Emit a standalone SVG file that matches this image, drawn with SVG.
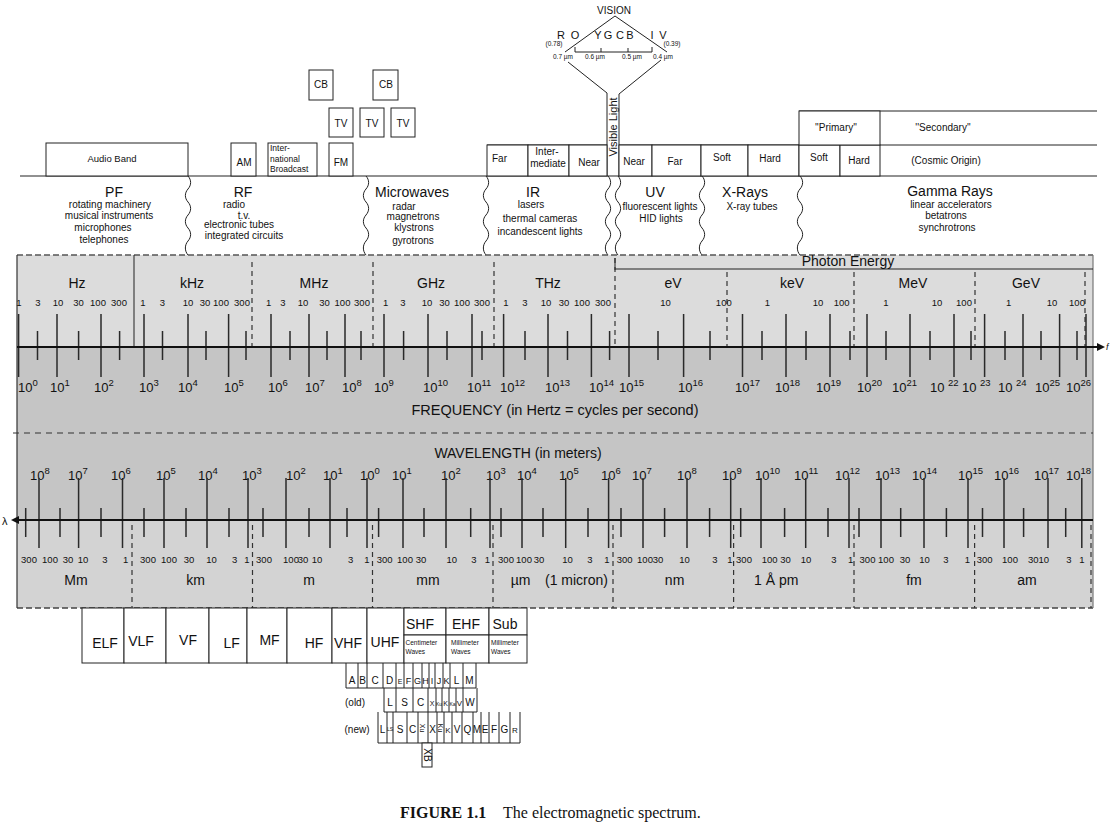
<svg xmlns="http://www.w3.org/2000/svg" width="1115" height="837" viewBox="0 0 1115 837">
<style>
text{font-family:"Liberation Sans",Arial,Helvetica,sans-serif;fill:#111}
.m{text-anchor:middle}
.ln{stroke:#222;stroke-width:1;fill:none}
.bx{fill:#fff;stroke:#222;stroke-width:1}
.dl{stroke:#333;stroke-width:1.2;stroke-dasharray:5 4;fill:none}
.tk{stroke:#2a2a2a;stroke-width:1.5;fill:none}
.ax{stroke:#111;stroke-width:2;fill:none}
.s6{font-size:6.5px}.s8{font-size:8.5px}.s9{font-size:9.5px}.s10{font-size:10px}.s11{font-size:11px}.s13{font-size:13px}.s14{font-size:14px}
.e{font-size:13px}.p{font-size:9.5px}
.cap{font-family:"Liberation Serif","Times New Roman",serif;font-size:16px}
</style>
<defs>
<path id="wv" class="ln" d="M0,0 c3.5,4 3.5,9 0,13 c-3.5,4 -3.5,9 0,13 c3.5,4 3.5,9 0,13 c-3.5,4 -3.5,9 0,13 c3.5,4 3.5,9 0,13 c-3.5,4 -3.5,10 0,14"/>
</defs>

<!-- VISION -->
<g id="vision">
<text x="614" y="14" class="m s10">VISION</text>
<path class="ln" d="M615,16 L565,52 M615,16 L667,52"/>
<path class="ln" d="M575,52 H652 M575,47 V52 M601,48 V52 M628,48 V52 M652,47 V52"/>
<g class="s11">
<text x="561" y="39" class="m">R</text><text x="575" y="39" class="m">O</text>
<text x="598" y="39" class="m">Y</text><text x="608" y="39" class="m">G</text>
<text x="620" y="39" class="m">C</text><text x="630" y="39" class="m">B</text>
<text x="652" y="39" class="m">I</text><text x="663" y="39" class="m">V</text>
</g>
<text x="554" y="46" class="m s6">(0.78)</text>
<text x="672" y="46" class="m s6">(0.39)</text>
<text x="563" y="59" class="m s6">0.7 µm</text>
<text x="595" y="59" class="m s6">0.6 µm</text>
<text x="632" y="59" class="m s6">0.5 µm</text>
<text x="663" y="59" class="m s6">0.4 µm</text>
</g>

<g id="connectors">
<path class="ln" d="M568,62 L607,93 V176 M661,60 L619,94 V176"/>
<path class="ln" d="M20,176 H1097 M487,145 H607 M619,145 H1097 M799,111 H1097"/>
<use href="#wv" x="188" y="176"/><use href="#wv" x="366" y="176"/>
<use href="#wv" x="486" y="176"/><use href="#wv" x="608" y="176"/>
<use href="#wv" x="618" y="176"/><use href="#wv" x="702" y="176"/>
<use href="#wv" x="800" y="176"/>
</g>

<g id="visible-light"><text transform="translate(617,127) rotate(-90)" class="m s11">Visible Light</text></g>

<!-- top boxes -->
<g id="audio-band"><rect x="46" y="143" width="142" height="33" class="bx"/><text x="112" y="162" class="m s9">Audio Band</text></g>
<g id="am"><rect x="231" y="143" width="25" height="33" class="bx"/><text x="244" y="166" class="m s10">AM</text></g>
<g id="intl"><rect x="268" y="143" width="49" height="33" class="bx"/>
<text x="270" y="151" class="s8">Inter-</text><text x="270" y="162" class="s8">national</text><text x="270" y="172" class="s8">Broadcast</text></g>
<g id="fm"><rect x="329" y="143" width="24" height="33" class="bx"/><text x="341" y="166" class="m s10">FM</text></g>
<g id="tv1"><rect x="329" y="108" width="24" height="29" class="bx"/><text x="341" y="127" class="m s10">TV</text></g>
<g id="tv2"><rect x="360" y="108" width="24" height="29" class="bx"/><text x="372" y="127" class="m s10">TV</text></g>
<g id="tv3"><rect x="391" y="108" width="24" height="29" class="bx"/><text x="403" y="127" class="m s10">TV</text></g>
<g id="cb1"><rect x="309" y="70" width="24" height="30" class="bx"/><text x="321" y="88" class="m s10">CB</text></g>
<g id="cb2"><rect x="373" y="70" width="25" height="30" class="bx"/><text x="386" y="88" class="m s10">CB</text></g>

<g id="ir-far"><rect x="487" y="145" width="41" height="31" class="bx"/><text x="492" y="162" class="s10">Far</text></g>
<g id="ir-inter"><rect x="528" y="145" width="41" height="31" class="bx"/><text x="547" y="155" class="m s10">Inter-</text><text x="548" y="167" class="m s10">mediate</text></g>
<g id="ir-near"><rect x="569" y="145" width="38" height="31" class="bx"/><text x="589" y="166" class="m s10">Near</text></g>
<g id="uv-near"><rect x="619" y="145" width="33" height="31" class="bx"/><text x="634" y="165" class="m s10">Near</text></g>
<g id="uv-far"><rect x="652" y="145" width="49" height="31" class="bx"/><text x="675" y="165" class="m s10">Far</text></g>
<g id="x-soft"><rect x="701" y="145" width="47" height="31" class="bx"/><text x="722" y="161" class="m s10">Soft</text></g>
<g id="x-hard"><rect x="748" y="145" width="51" height="31" class="bx"/><text x="770" y="162" class="m s10">Hard</text></g>
<g id="g-soft"><rect x="799" y="145" width="41" height="31" class="bx"/><text x="819" y="161" class="m s10">Soft</text></g>
<g id="g-hard"><rect x="840" y="145" width="40" height="31" class="bx"/><text x="859" y="164" class="m s10">Hard</text></g>
<g id="cosmic"><text x="946" y="164" class="m s10">(Cosmic Origin)</text></g>
<g id="primary"><rect x="799" y="111" width="81" height="34" class="bx"/><text x="836" y="131" class="m s10">''Primary''</text></g>
<g id="secondary"><text x="943" y="131" class="m s10">''Secondary''</text></g>

<!-- categories -->
<g id="pf"><text x="114" y="197" class="m s14">PF</text>
<text x="110" y="208" class="m s10">rotating machinery</text><text x="109" y="219" class="m s10">musical instruments</text>
<text x="103" y="231" class="m s10">microphones</text><text x="104" y="243" class="m s10">telephones</text></g>
<g id="rf"><text x="243" y="197" class="m s14">RF</text>
<text x="234" y="208" class="m s10">radio</text><text x="244" y="219" class="m s10">t.v.</text>
<text x="239" y="228" class="m s10">electronic tubes</text><text x="244" y="239" class="m s10">integrated circuits</text></g>
<g id="microwaves"><text x="412" y="197" class="m s14">Microwaves</text>
<text x="404" y="210" class="m s10">radar</text><text x="413" y="220" class="m s10">magnetrons</text>
<text x="414" y="231" class="m s10">klystrons</text><text x="413" y="244" class="m s10">gyrotrons</text></g>
<g id="ir"><text x="533" y="197" class="m s14">IR</text>
<text x="531" y="208" class="m s10">lasers</text><text x="540" y="222" class="m s10">thermal cameras</text>
<text x="540" y="235" class="m s10">incandescent lights</text></g>
<g id="uv"><text x="655" y="197" class="m s14">UV</text>
<text x="660" y="210" class="m s10">fluorescent lights</text><text x="661" y="222" class="m s10">HID lights</text></g>
<g id="xrays"><text x="745" y="197" class="m s14">X-Rays</text>
<text x="752" y="210" class="m s10">X-ray tubes</text></g>
<g id="gamma"><text x="950" y="196" class="m s14">Gamma Rays</text>
<text x="951" y="208" class="m s10">linear accelerators</text><text x="946" y="219" class="m s10">betatrons</text>
<text x="947" y="231" class="m s10">synchrotrons</text></g>

<!-- main frame -->
<g id="frame">
<rect x="17" y="255" width="1076" height="92" fill="#dcdcdc"/>
<rect x="17" y="347" width="1076" height="173" fill="#c5c5c5"/>
<rect x="17" y="520" width="1076" height="88" fill="#d3d3d3"/>
<path d="M17,255 H1093" stroke="#555" stroke-width="1.5" stroke-dasharray="6 3" fill="none"/>
<path d="M17,608 H1093" stroke="#444" stroke-width="1.5" stroke-dasharray="6 3" fill="none"/>
<path d="M17,255 V608" stroke="#333" stroke-width="1.2" fill="none"/>
<path d="M1093,255 V608" stroke="#777" stroke-width="1.2" fill="none"/>
<path d="M134,255 V347 M615,258 V270 M615,269 H1093" class="ln"/>
<path class="dl" d="M252,262 V347 M373,262 V347 M494,262 V347 M615,258 V347 M727,272 V347 M854,272 V347 M975,272 V347 M1085,272 V347"/>
<path class="dl" d="M132,525 V608 M252.5,525 V608 M372.5,525 V608 M493,525 V608 M613,525 V608 M733.6,525 V608 M854,525 V608 M974.6,525 V608 M1091,525 V608"/>
<path d="M13,433 H1093" stroke="#333" stroke-width="1.2" stroke-dasharray="6 5" fill="none"/>
</g>

<!-- frequency scale -->
<g id="frequency">
<text x="848" y="266" class="m s14">Photon Energy</text>
<g class="s14">
<text x="77" y="288" class="m">Hz</text><text x="192" y="288" class="m">kHz</text><text x="314" y="288" class="m">MHz</text>
<text x="431" y="288" class="m">GHz</text><text x="548" y="288" class="m">THz</text><text x="673" y="288" class="m">eV</text>
<text x="792" y="288" class="m">keV</text><text x="913" y="288" class="m">MeV</text><text x="1026" y="288" class="m">GeV</text>
</g>
<g class="s9">
<text x="19" y="306" class="m">1</text><text x="38" y="306" class="m">3</text><text x="58" y="306" class="m">10</text><text x="78.6" y="306" class="m">30</text><text x="98" y="306" class="m">100</text><text x="119" y="306" class="m">300</text>
<text x="143" y="306" class="m">1</text><text x="162.5" y="306" class="m">3</text><text x="188" y="306" class="m">10</text><text x="205" y="306" class="m">30</text><text x="221" y="306" class="m">100</text><text x="242" y="306" class="m">300</text>
<text x="268.6" y="306" class="m">1</text><text x="283" y="306" class="m">3</text><text x="303" y="306" class="m">10</text><text x="324.5" y="306" class="m">30</text><text x="342.5" y="306" class="m">100</text><text x="362" y="306" class="m">300</text>
<text x="385.7" y="306" class="m">1</text><text x="403" y="306" class="m">3</text><text x="427" y="306" class="m">10</text><text x="444.6" y="306" class="m">30</text><text x="462" y="306" class="m">100</text><text x="482" y="306" class="m">300</text>
<text x="506" y="306" class="m">1</text><text x="525" y="306" class="m">3</text><text x="546" y="306" class="m">10</text><text x="564" y="306" class="m">30</text><text x="582" y="306" class="m">100</text><text x="603" y="306" class="m">300</text>
<text x="665.5" y="306" class="m">10</text><text x="723.8" y="306" class="m">100</text>
<text x="767.5" y="306" class="m">1</text><text x="818" y="306" class="m">10</text><text x="841.6" y="306" class="m">100</text>
<text x="886" y="306" class="m">1</text><text x="937" y="306" class="m">10</text><text x="964" y="306" class="m">100</text>
<text x="1008.6" y="306" class="m">1</text><text x="1052" y="306" class="m">10</text><text x="1077" y="306" class="m">100</text>
</g>
<path class="tk" d="M18.6,314V377M57,314V377M101,314V377M144,314V377M188,314V377M228.6,314V377M271,314V377M309,314V377M345,314V377M384,314V377M428,314V377M472,314V377M503.6,314V377M548,314V377M591.4,314V377M629,314V377M683.6,314V377M742.5,314V377M786,314V377M830,314V377M867,314V377M910,314V377M954,314V377M984.6,314V377M1023,314V377M1059.6,314V377M1086,314V377"/>
<path class="tk" d="M37.5,331V360M78.6,331V360M119.6,331V360M162.5,331V360M206,331V360M246,331V360M290,331V360M327,331V360M361,331V360M403.6,331V360M447,331V360M482,331V360M525,331V360M567.5,331V360M609.6,331V360M658,331V360M710,331V360M762,331V360M806,331V360M850,331V360M886,331V360M930,331V360M971,331V360M1005,331V360M1041,331V360M1077,331V360"/>
<path class="ax" d="M17,347 H1097"/>
<polygon points="1097,343 1105,347 1097,351" fill="#111"/>
<text x="1106" y="350" font-size="9" font-style="italic">f</text>
<g class="e">
<text x="18" y="392">10<tspan class="p" dy="-6">0</tspan></text>
<text x="50" y="392">10<tspan class="p" dy="-6">1</tspan></text>
<text x="94" y="392">10<tspan class="p" dy="-6">2</tspan></text>
<text x="139" y="392">10<tspan class="p" dy="-6">3</tspan></text>
<text x="178" y="392">10<tspan class="p" dy="-6">4</tspan></text>
<text x="224" y="392">10<tspan class="p" dy="-6">5</tspan></text>
<text x="268" y="392">10<tspan class="p" dy="-6">6</tspan></text>
<text x="305" y="392">10<tspan class="p" dy="-6">7</tspan></text>
<text x="342" y="392">10<tspan class="p" dy="-6">8</tspan></text>
<text x="374" y="392">10<tspan class="p" dy="-6">9</tspan></text>
<text x="423" y="392">10<tspan class="p" dy="-6">10</tspan></text>
<text x="467" y="392">10<tspan class="p" dy="-6">11</tspan></text>
<text x="500" y="392">10<tspan class="p" dy="-6">12</tspan></text>
<text x="545" y="392">10<tspan class="p" dy="-6">13</tspan></text>
<text x="589" y="392">10<tspan class="p" dy="-6">14</tspan></text>
<text x="619" y="392">10<tspan class="p" dy="-6">15</tspan></text>
<text x="678" y="392">10<tspan class="p" dy="-6">16</tspan></text>
<text x="735" y="392">10<tspan class="p" dy="-6">17</tspan></text>
<text x="775" y="392">10<tspan class="p" dy="-6">18</tspan></text>
<text x="816" y="392">10<tspan class="p" dy="-6">19</tspan></text>
<text x="857" y="392">10<tspan class="p" dy="-6">20</tspan></text>
<text x="892" y="392">10<tspan class="p" dy="-6">21</tspan></text>
<text x="930" y="392">10 <tspan class="p" dy="-6">22</tspan></text>
<text x="962" y="392">10 <tspan class="p" dy="-6">23</tspan></text>
<text x="998" y="392">10 <tspan class="p" dy="-6">24</tspan></text>
<text x="1035" y="392">10<tspan class="p" dy="-6">25</tspan></text>
<text x="1066" y="392">10<tspan class="p" dy="-6">26</tspan></text>
</g>
<text x="555" y="415" class="m" font-size="14.5">FREQUENCY (in Hertz = cycles per second)</text>
</g>

<!-- wavelength scale -->
<g id="wavelength">
<text x="518" y="458" class="m s14">WAVELENGTH (in meters)</text>
<g class="e">
<text x="30" y="480">10<tspan class="p" dy="-6">8</tspan></text>
<text x="68" y="480">10<tspan class="p" dy="-6">7</tspan></text>
<text x="111" y="480">10<tspan class="p" dy="-6">6</tspan></text>
<text x="156" y="480">10<tspan class="p" dy="-6">5</tspan></text>
<text x="198" y="480">10<tspan class="p" dy="-6">4</tspan></text>
<text x="242" y="480">10<tspan class="p" dy="-6">3</tspan></text>
<text x="286" y="480">10<tspan class="p" dy="-6">2</tspan></text>
<text x="323" y="480">10<tspan class="p" dy="-6">1</tspan></text>
<text x="360" y="480">10<tspan class="p" dy="-6">0</tspan></text>
<text x="392" y="480">10<tspan class="p" dy="-6">1</tspan></text>
<text x="441" y="480">10<tspan class="p" dy="-6">2</tspan></text>
<text x="486" y="480">10<tspan class="p" dy="-6">3</tspan></text>
<text x="517" y="480">10<tspan class="p" dy="-6">4</tspan></text>
<text x="559" y="480">10<tspan class="p" dy="-6">5</tspan></text>
<text x="601" y="480">10<tspan class="p" dy="-6">6</tspan></text>
<text x="632" y="480">10<tspan class="p" dy="-6">7</tspan></text>
<text x="677" y="480">10<tspan class="p" dy="-6">8</tspan></text>
<text x="722" y="480">10<tspan class="p" dy="-6">9</tspan></text>
<text x="755" y="480">10<tspan class="p" dy="-6">10</tspan></text>
<text x="794" y="480">10<tspan class="p" dy="-6">11</tspan></text>
<text x="835" y="480">10<tspan class="p" dy="-6">12</tspan></text>
<text x="875" y="480">10<tspan class="p" dy="-6">13</tspan></text>
<text x="912" y="480">10<tspan class="p" dy="-6">14</tspan></text>
<text x="958" y="480">10<tspan class="p" dy="-6">15</tspan></text>
<text x="994" y="480">10<tspan class="p" dy="-6">16</tspan></text>
<text x="1034" y="480">10<tspan class="p" dy="-6">17</tspan></text>
<text x="1066" y="480">10<tspan class="p" dy="-6">18</tspan></text>
</g>
<path class="tk" d="M39,478V548M78.6,478V548M122.5,478V548M164,478V548M207,478V548M248,478V548M286,478V548M330,478V548M367,478V548M403,478V548M446,478V548M490,478V548M522,478V548M565.7,478V548M608.6,478V548M643,478V548M687,478V548M730.7,478V548M761,478V548M805.7,478V548M849,478V548M881,478V548M924,478V548M968,478V548M1004,478V548M1048,478V548M1081.8,478V548"/>
<path class="tk" d="M25.7,508V537M60,508V537M101,508V537M144,508V537M186,508V537M229,508V537M263,508V537M309,508V537M347,508V537M378.6,508V537M424,508V537M470.7,508V537M501,508V537M543,508V537M588,508V537M621,508V537M664.6,508V537M709.6,508V537M740.7,508V537M784.6,508V537M828,508V537M859,508V537M900.7,508V537M946.4,508V537M982.5,508V537M1023.6,508V537M1065.7,508V537"/>
<path class="ax" d="M17,520 H1093"/>
<polygon points="19,516 11,520 19,524" fill="#111"/>
<text x="2" y="525" class="s11">λ</text>
<g class="s9">
<text x="29" y="563" class="m">300</text><text x="50" y="563" class="m">100</text><text x="68" y="563" class="m">30</text><text x="83" y="563" class="m">10</text><text x="105" y="563" class="m">3</text><text x="125.7" y="563" class="m">1</text>
<text x="148" y="563" class="m">300</text><text x="169" y="563" class="m">100</text><text x="189" y="563" class="m">30</text><text x="211.6" y="563" class="m">10</text><text x="234.6" y="563" class="m">3</text><text x="247" y="563" class="m">1</text>
<text x="264" y="563" class="m">300</text><text x="291" y="563" class="m">100</text><text x="303" y="563" class="m">30</text><text x="317" y="563" class="m">10</text><text x="350.7" y="563" class="m">3</text><text x="367" y="563" class="m">1</text>
<text x="384.6" y="563" class="m">300</text><text x="405" y="563" class="m">100</text><text x="421" y="563" class="m">30</text><text x="451.8" y="563" class="m">10</text><text x="474" y="563" class="m">3</text><text x="487.5" y="563" class="m">1</text>
<text x="506" y="563" class="m">300</text><text x="524" y="563" class="m">100</text><text x="539" y="563" class="m">30</text><text x="567.6" y="563" class="m">10</text><text x="590" y="563" class="m">3</text><text x="606.8" y="563" class="m">1</text>
<text x="624.6" y="563" class="m">300</text><text x="645" y="563" class="m">100</text><text x="658" y="563" class="m">30</text><text x="684.6" y="563" class="m">10</text><text x="715" y="563" class="m">3</text><text x="730" y="563" class="m">1</text>
<text x="744" y="563" class="m">300</text><text x="769.6" y="563" class="m">100</text><text x="785.6" y="563" class="m">30</text><text x="806" y="563" class="m">10</text><text x="834" y="563" class="m">3</text><text x="850.7" y="563" class="m">1</text>
<text x="867.5" y="563" class="m">300</text><text x="886" y="563" class="m">100</text><text x="905" y="563" class="m">30</text><text x="924.6" y="563" class="m">10</text><text x="946" y="563" class="m">3</text><text x="967.5" y="563" class="m">1</text>
<text x="984.6" y="563" class="m">300</text><text x="1010" y="563" class="m">100</text><text x="1038.6" y="563" class="m">3010</text><text x="1069" y="563" class="m">3</text><text x="1082" y="563" class="m">1</text>
</g>
<g class="s14">
<text x="76" y="585" class="m">Mm</text><text x="195.5" y="585" class="m">km</text><text x="309" y="585" class="m">m</text>
<text x="428" y="585" class="m">mm</text><text x="520.5" y="585" class="m">µm</text><text x="545" y="585">(1 micron)</text>
<text x="674.6" y="585" class="m">nm</text><text x="754" y="585">1 Å  pm</text>
<text x="914" y="585" class="m">fm</text><text x="1027" y="585" class="m">am</text>
</g>
</g>

<!-- frequency bands -->
<g id="bands">
<g id="elf"><rect x="82" y="608" width="42" height="55" class="bx"/><text x="105" y="648" class="m s14">ELF</text></g>
<g id="vlf"><rect x="124" y="608" width="42" height="55" class="bx"/><text x="141" y="646" class="m s14">VLF</text></g>
<g id="vf"><rect x="166" y="608" width="43" height="55" class="bx"/><text x="188" y="645" class="m s14">VF</text></g>
<g id="lf"><rect x="209" y="608" width="38" height="55" class="bx"/><text x="231.7" y="648" class="m s14">LF</text></g>
<g id="mf"><rect x="247" y="608" width="40" height="55" class="bx"/><text x="269.5" y="645" class="m s14">MF</text></g>
<g id="hf"><rect x="287" y="608" width="45" height="55" class="bx"/><text x="314" y="648" class="m s14">HF</text></g>
<g id="vhf"><rect x="332" y="608" width="35" height="55" class="bx"/><text x="348" y="648" class="m s14">VHF</text></g>
<g id="uhf"><rect x="367" y="608" width="37" height="55" class="bx"/><text x="385" y="647" class="m s14">UHF</text></g>
<g id="shf"><rect x="404" y="608" width="42" height="27" class="bx"/><rect x="404" y="635" width="42" height="28" class="bx"/>
<text x="420" y="629" class="m s14">SHF</text><text x="405.5" y="645" class="s6">Centimeter</text><text x="405.5" y="654" class="s6">Waves</text></g>
<g id="ehf"><rect x="446" y="608" width="43" height="27" class="bx"/><rect x="446" y="635" width="43" height="28" class="bx"/>
<text x="466" y="629" class="m s14">EHF</text><text x="451" y="645" class="s6">Millimeter</text><text x="451" y="654" class="s6">Waves</text></g>
<g id="sub"><rect x="489" y="608" width="38" height="27" class="bx"/><rect x="489" y="635" width="38" height="28" class="bx"/>
<text x="505" y="629" class="m s14">Sub</text><text x="491" y="645" class="s6">Millimeter</text><text x="491" y="654" class="s6">Waves</text></g>
</g>

<!-- radar bands -->
<g id="radar-letters">
<path class="ln" d="M346,663 V688 H476 V663 M358,663 V688 M367,663 V688 M383,663 V688 M396,663 V688 M404,663 V688 M413,663 V688 M422,663 V688 M429,663 V688 M435,663 V688 M443,663 V688 M450,663 V688 M463,663 V688"/>
<g class="s10">
<text x="352" y="684" class="m">A</text><text x="362.5" y="684" class="m">B</text><text x="375" y="684" class="m">C</text><text x="389.5" y="684" class="m">D</text>
<text x="400" y="684" class="m" font-size="7">E</text><text x="408.5" y="684" class="m" font-size="9">F</text><text x="417.5" y="684" class="m" font-size="9">G</text>
<text x="425.5" y="684" class="m" font-size="9">H</text><text x="432" y="684" class="m" font-size="9">I</text><text x="439" y="684" class="m" font-size="9">J</text>
<text x="446.5" y="684" class="m" font-size="9">K</text><text x="456.5" y="684" class="m">L</text><text x="469.5" y="684" class="m">M</text>
</g>
</g>
<g id="radar-old">
<text x="355" y="706" class="m s10">(old)</text>
<path class="ln" d="M384,688 V712 H477 V688 M396,688 V712 M413,688 V712 M428,688 V712 M436,688 V712 M442,688 V712 M449,688 V712 M456,688 V712 M463,688 V712"/>
<g class="s10">
<text x="390" y="706" class="m">L</text><text x="404.5" y="706" class="m">S</text><text x="420.5" y="706" class="m">C</text>
<text x="432" y="706" class="m" font-size="7">X</text><text x="439" y="706" class="m" font-size="5">Ku</text><text x="445.5" y="706" class="m" font-size="7">K</text>
<text x="452.5" y="706" class="m" font-size="5">Ka</text><text x="459.5" y="706" class="m" font-size="8">V</text><text x="470" y="706" class="m">W</text>
</g>
</g>
<g id="radar-new">
<text x="357" y="733" class="m s10">(new)</text>
<path class="ln" d="M378,712 V743 H520 V712 M387,712 V743 M393,712 V743 M407,712 V743 M418,712 V743 M428,712 V743 M437,712 V743 M444,712 V743 M452,712 V743 M462,712 V743 M473,712 V743 M481,712 V743 M489,712 V743 M499,712 V743 M510,712 V743"/>
<g class="s10">
<text x="382.5" y="733" class="m">L</text><text x="390" y="731" class="m" font-size="5">LS</text><text x="400" y="733" class="m">S</text>
<text x="412.5" y="733" class="m">C</text><text transform="translate(420,728) rotate(90)" class="m" font-size="7">Xu</text>
<text x="432.5" y="733" class="m">X</text><text transform="translate(438,728) rotate(90)" class="m" font-size="7">Ku</text>
<text x="448" y="733" class="m" font-size="8">K</text><text x="457" y="733" class="m">V</text><text x="467.5" y="733" class="m">Q</text>
<text x="477" y="733" class="m">M</text><text x="485" y="733" class="m">E</text><text x="494" y="733" class="m">F</text>
<text x="504.5" y="733" class="m">G</text><text x="515" y="733" class="m" font-size="8">R</text>
</g>
</g>
<g id="radar-xb"><rect x="422" y="743" width="10" height="24" class="bx"/><text transform="translate(424,755) rotate(90)" class="m s10">XB</text></g>

<g id="caption">
<text x="400" y="818" class="cap" font-weight="bold">FIGURE 1.1</text>
<text x="503" y="818" class="cap" font-size="17.5">The electromagnetic spectrum.</text>
</g>
</svg>
